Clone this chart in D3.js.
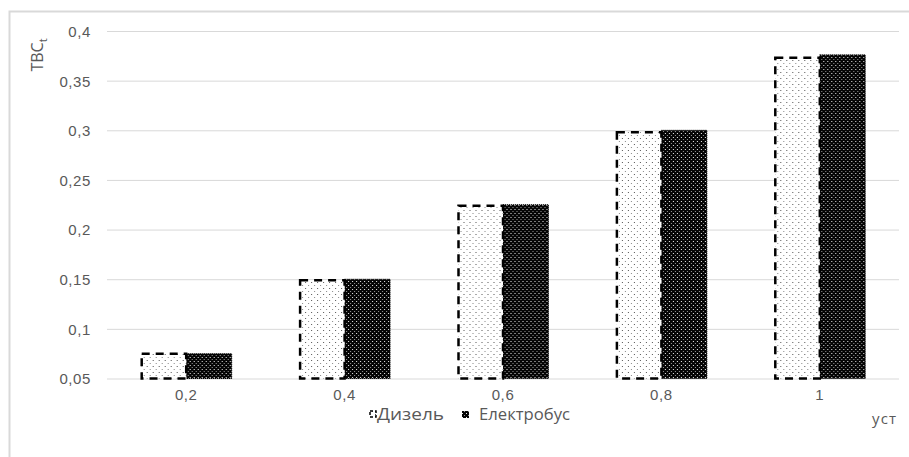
<!DOCTYPE html>
<html>
<head>
<meta charset="utf-8">
<script src="https://cdn.jsdelivr.net/npm/d3@7"></script>
<style>
  html, body { margin: 0; padding: 0; background: #fff; }
  svg { display: block; font-family: "Open Sans", "Liberation Sans", sans-serif; }
</style>
</head>
<body>
<svg id="chart" width="909" height="457"></svg>
<script>
// Share of the cost component vs. utilisation factor
const categories = ["0,2", "0,4", "0,6", "0,8", "1"];
const seriesNames = ["Дизель", "Електробус"];
const dieselValues = [0.075, 0.149, 0.224, 0.298, 0.373];
const ebusValues = [0.075, 0.150, 0.225, 0.300, 0.376];
const yTicks = [0.05, 0.1, 0.15, 0.2, 0.25, 0.3, 0.35, 0.4];

const svg = d3.select("#chart");
const plot = { left: 107, right: 899, top: 31, bottom: 378.5 };
const textColor = "#595959";

// Fill patterns: sparse dots on white and light dots on black
const defs = svg.append("defs");
const pDiesel = defs.append("pattern").attr("id", "dotsLight")
  .attr("patternUnits", "userSpaceOnUse").attr("width", 6).attr("height", 6);
pDiesel.append("rect").attr("width", 6).attr("height", 6).attr("fill", "#fff");
pDiesel.append("rect").attr("x", 0).attr("y", 0).attr("width", 1).attr("height", 1).attr("fill", "#555");
pDiesel.append("rect").attr("x", 3).attr("y", 3).attr("width", 1).attr("height", 1).attr("fill", "#888");

const pEbus = defs.append("pattern").attr("id", "dotsDark")
  .attr("patternUnits", "userSpaceOnUse").attr("width", 4).attr("height", 4);
pEbus.append("rect").attr("width", 4).attr("height", 4).attr("fill", "#050505");
pEbus.append("rect").attr("x", 1).attr("y", 1).attr("width", 1).attr("height", 1).attr("fill", "#eee");
pEbus.append("rect").attr("x", 3).attr("y", 3).attr("width", 1).attr("height", 1).attr("fill", "#999");

// Outer chart frame
svg.append("rect").attr("x", 9.5).attr("y", 11.5).attr("width", 1000).attr("height", 1000)
  .attr("fill", "none").attr("stroke", "#d9d9d9").attr("stroke-width", 2);

const x0 = d3.scaleBand().domain(categories).range([plot.left, plot.right])
  .paddingInner(0.4255).paddingOuter(0.2128);
const x1 = d3.scaleBand().domain(seriesNames).range([0, x0.bandwidth()]);
const y = d3.scaleLinear().domain([0.05, 0.4]).range([plot.bottom, plot.top]);
const fmt = d => String(+d.toFixed(2)).replace(".", ",");

// Gridlines and y labels
const yAxis = svg.append("g").attr("transform", `translate(${plot.left},0)`)
  .call(d3.axisLeft(y).tickValues(yTicks).tickFormat(fmt)
    .tickSize(-(plot.right - plot.left)).tickPadding(16));
yAxis.select(".domain").remove();
yAxis.selectAll(".tick line").attr("stroke", "#d9d9d9").attr("stroke-width", 1);
yAxis.selectAll(".tick text").attr("fill", textColor).attr("font-size", 15)
  .attr("letter-spacing", 0.6).attr("dy", "0.36em");

// x labels
const xAxis = svg.append("g").attr("transform", `translate(0,${plot.bottom})`)
  .call(d3.axisBottom(x0).tickSize(0).tickPadding(11));
xAxis.select(".domain").remove();
xAxis.selectAll(".tick text").attr("fill", textColor).attr("font-size", 15)
  .attr("letter-spacing", 0.6);

// Bars
const data = categories.map((c, i) => ({ cat: c, vals: [dieselValues[i], ebusValues[i]] }));
const groups = svg.append("g").selectAll("g").data(data).join("g")
  .attr("transform", d => `translate(${x0(d.cat)},0)`);

groups.append("rect")
  .attr("x", x1(seriesNames[1]))
  .attr("y", d => y(d.vals[1]))
  .attr("width", x1.bandwidth())
  .attr("height", d => y(0.05) - y(d.vals[1]))
  .attr("fill", "url(#dotsDark)")
  .attr("stroke", "#000").attr("stroke-width", 1).attr("stroke-dasharray", "1,1");

groups.append("rect")
  .attr("x", x1(seriesNames[0]) + 1)
  .attr("y", d => y(d.vals[0]))
  .attr("width", x1.bandwidth() - 1)
  .attr("height", d => y(0.05) - y(d.vals[0]))
  .attr("fill", "url(#dotsLight)")
  .attr("stroke", "#000").attr("stroke-width", 2.5).attr("stroke-dasharray", "8,6");

// Axis titles
svg.append("text")
  .attr("transform", "translate(43,55) rotate(-90)")
  .attr("text-anchor", "middle").attr("fill", textColor).attr("font-size", 16)
  .html('TBC<tspan font-size="11" dy="4">t</tspan>');

svg.append("text").attr("x", 872).attr("y", 424)
  .attr("fill", textColor).attr("font-size", 15).attr("letter-spacing", 1.2).text("уст");

// Legend
const legend = svg.append("g").attr("transform", "translate(369,408)");
legend.append("rect").attr("x", 1).attr("y", 3).attr("width", 6).attr("height", 6)
  .attr("fill", "url(#dotsLight)").attr("stroke", "#000").attr("stroke-width", 1.5)
  .attr("stroke-dasharray", "3,2");
legend.append("text").attr("x", 8).attr("y", 11.5).attr("fill", textColor)
  .attr("font-size", 16).attr("textLength", 67).attr("lengthAdjust", "spacingAndGlyphs")
  .text(seriesNames[0]);
legend.append("rect").attr("x", 93).attr("y", 3).attr("width", 7).attr("height", 7)
  .attr("fill", "url(#dotsDark)");
legend.append("text").attr("x", 110).attr("y", 11.5).attr("fill", textColor)
  .attr("font-size", 16).attr("textLength", 91).attr("lengthAdjust", "spacingAndGlyphs")
  .text(seriesNames[1]);
</script>
</body>
</html>
